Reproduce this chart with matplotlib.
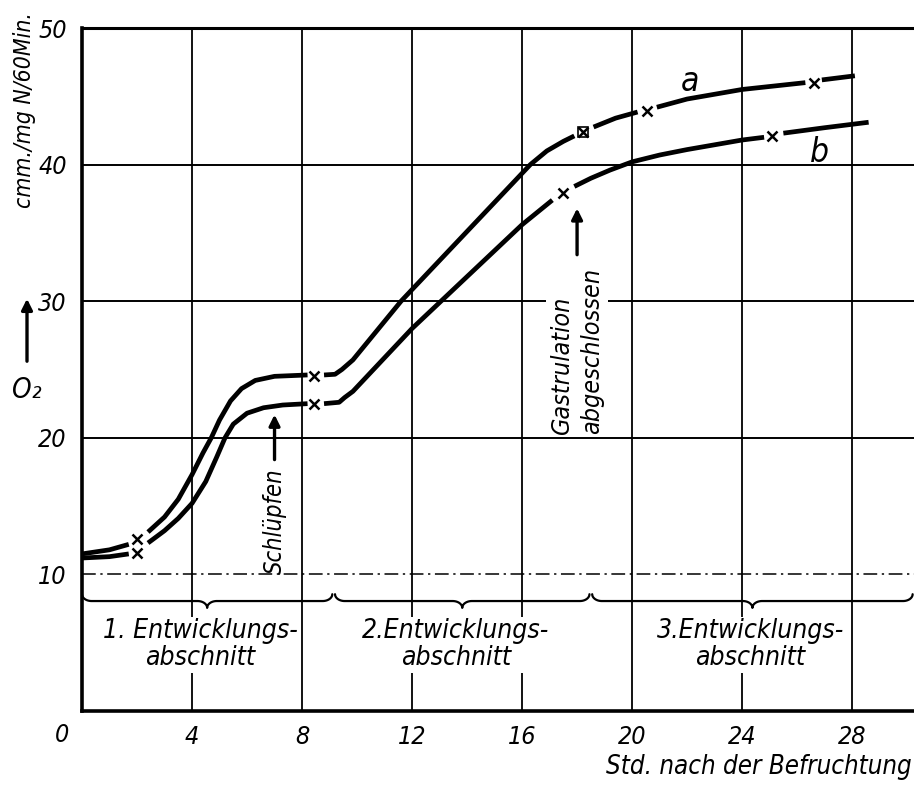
import numpy as np
import matplotlib
matplotlib.use("Agg")
import matplotlib.pyplot as plt
from matplotlib import font_manager
from matplotlib.font_manager import FontProperties

# Werte (Std. nach der Befruchtung / O2-Verbrauch)
nan = np.nan
a_x = [0, 1.0, 1.7, nan, 2.4, 3.0, 3.5, 4.0, 4.4, 4.7, 5.0, 5.4, 5.8, 6.3, 7.0, 8.2, nan,
       8.8, 9.2, 9.45, 9.85, 11.6, 16.3, 16.9, 17.5, 17.9, nan,
       18.6, 19.4, 20.2, nan, 20.9, 22.0, 24.0, 26.3, nan, 26.9, 28.1]
a_y = [11.5, 11.8, 12.2, nan, 13.1, 14.2, 15.5, 17.3, 18.9, 20.0, 21.3, 22.7, 23.6, 24.2, 24.5, 24.6, nan,
       24.6, 24.65, 25.0, 25.7, 30.0, 40.0, 41.0, 41.7, 42.1, nan,
       42.75, 43.4, 43.85, nan, 44.2, 44.8, 45.5, 46.0, nan, 46.2, 46.5]

b_x = [0, 1.0, 1.7, nan, 2.4, 3.0, 3.5, 4.0, 4.5, 4.9, 5.2, 5.5, 6.0, 6.6, 7.3, 8.2, nan,
       8.8, 9.35, 9.55, 9.85, 12.0, 16.0, 17.1, nan,
       17.9, 18.5, 19.2, 20.0, 21.0, 22.0, 24.0, 24.8, nan, 25.5, 27.0, 28.6]
b_y = [11.2, 11.3, 11.5, nan, 12.3, 13.2, 14.1, 15.2, 16.8, 18.6, 20.0, 21.0, 21.8, 22.2, 22.4, 22.5, nan,
       22.5, 22.6, 22.95, 23.4, 28.0, 35.6, 37.4, nan,
       38.4, 39.0, 39.6, 40.2, 40.7, 41.1, 41.8, 42.0, nan, 42.3, 42.7, 43.1]

# Messpunkte (Kreuze)
a_mx = [2.0, 8.45, 18.2, 20.55, 26.6]
a_my = [12.6, 24.5, 42.4, 43.9, 46.0]
b_mx = [2.0, 8.45, 17.5, 25.1]
b_my = [11.6, 22.5, 37.9, 42.1]

x_ticks = [4, 8, 12, 16, 20, 24, 28]
y_ticks = [10, 20, 30, 40, 50]
grid_levels = [20, 30, 40]

# Entwicklungsabschnitte (Grenzen in Std.)
phase_bounds = [(0.0, 9.1), (9.2, 18.45), (18.55, 30.2)]
phase_labels = ["1. Entwicklungs-\nabschnitt", "2.Entwicklungs-\nabschnitt", "3.Entwicklungs-\nabschnitt"]
phase_text_x = [4.3, 13.6, 24.3]


def schmale_schrift():
    # eine schmale (condensed/narrow) Schrift suchen, kursiv bevorzugt
    best, best_score = None, -1
    for f in font_manager.fontManager.ttflist:
        fn = f.fname.lower()
        schmal = ("condensed" in str(f.stretch) or "narrow" in f.name.lower()
                  or "condensed" in f.name.lower() or "narrow" in fn or "condensed" in fn)
        if not schmal or "extra" in fn or "ultra" in fn:
            continue
        score = 1
        if f.style in ("italic", "oblique"):
            score += 4
        if f.weight in ("normal", "regular", "book", 400, "medium", 500):
            score += 2
        if "semi" in fn:
            score -= 1
        if "liberation" in fn:
            score += 1
        if score > best_score:
            best, best_score = f.fname, score
    return best


SCHRIFT = schmale_schrift()


def fp(size):
    if SCHRIFT:
        return FontProperties(fname=SCHRIFT, size=size)
    return FontProperties(family="DejaVu Sans", style="italic", size=size * 0.85)


def brace(ax, x0, x1, y, h=0.5, r=0.35, tip=0.5):
    t = np.linspace(0, np.pi / 2, 20)
    xm = (x0 + x1) / 2
    xs = np.concatenate([x0 + r * (1 - np.cos(t)),
                         xm - r + r * np.sin(t),
                         (xm + r - r * np.sin(t))[::-1],
                         (x1 - r * (1 - np.cos(t)))[::-1]])
    ys = np.concatenate([y + h * (1 - np.sin(t)),
                         y - tip * (1 - np.cos(t)),
                         (y - tip * (1 - np.cos(t)))[::-1],
                         (y + h * (1 - np.sin(t)))[::-1]])
    ax.plot(xs, ys, color="black", lw=1.6, zorder=2, solid_capstyle="round")


fig = plt.figure(figsize=(9.14, 7.85), dpi=100)
ax = fig.add_axes([82 / 914, 74 / 785, 832 / 914, 683 / 785])
ax.set_xlim(0, 30.25)
ax.set_ylim(0, 50)

ax.spines["right"].set_visible(False)
ax.spines["left"].set_linewidth(2.6)
ax.spines["bottom"].set_linewidth(2.6)
ax.spines["top"].set_linewidth(2.2)

for x in x_ticks:
    ax.axvline(x, color="black", lw=1.3, zorder=0.5)
for y in grid_levels:
    ax.axhline(y, color="black", lw=1.4, zorder=0.5)
ax.axhline(10, color="black", lw=1.1, ls=(0, (9, 3, 1.5, 3)), zorder=0.5)

ax.plot(a_x, a_y, color="black", lw=3.4, zorder=3, solid_capstyle="butt")
ax.plot(b_x, b_y, color="black", lw=3.4, zorder=3, solid_capstyle="butt")
ax.plot(a_mx, a_my, ls="none", marker="x", ms=7, mew=1.8, color="black", zorder=3)
ax.plot(b_mx, b_my, ls="none", marker="x", ms=7, mew=1.8, color="black", zorder=3)
ax.plot(a_mx[2], a_my[2], ls="none", marker="s", ms=7, mfc="none", mew=1.2, color="black", zorder=3)

ax.text(22.1, 46.1, "a", fontproperties=fp(24), ha="center", va="center")
ax.text(26.8, 40.9, "b", fontproperties=fp(24), ha="center", va="center")

for (x0, x1), lab, tx in zip(phase_bounds, phase_labels, phase_text_x):
    brace(ax, x0, x1, 8.05)
    ax.text(tx, 4.85, lab, fontproperties=fp(19), ha="center", va="center", multialignment="center",
            linespacing=1.05, zorder=4,
            bbox=dict(boxstyle="square,pad=0.05", fc="white", ec="none"))

# Schlüpfen
ax.annotate("", xy=(7.0, 21.9), xytext=(7.0, 18.2),
            arrowprops=dict(arrowstyle="-|>", lw=2.4, color="black", mutation_scale=16))
ax.text(7.0, 10.05, "Schlüpfen", rotation=90, fontproperties=fp(17), ha="center", va="bottom", zorder=4)

# Gastrulation abgeschlossen
ax.annotate("", xy=(18.0, 37.0), xytext=(18.0, 33.2),
            arrowprops=dict(arrowstyle="-|>", lw=2.4, color="black", mutation_scale=16))
ax.text(18.0, 20.3, "Gastrulation\nabgeschlossen", rotation=90, fontproperties=fp(18),
        ha="center", va="bottom", multialignment="left", linespacing=1.3, zorder=4,
        bbox=dict(boxstyle="square,pad=0.15", fc="white", ec="none"))

ax.set_xticks(x_ticks)
ax.set_yticks(y_ticks)
ax.tick_params(length=0)
ax.tick_params(axis="x", pad=10)
ax.tick_params(axis="y", pad=11)
for lbl in ax.get_xticklabels() + ax.get_yticklabels():
    lbl.set_fontproperties(fp(18))
ax.text(-0.72, -1.75, "0", fontproperties=fp(18), ha="center", va="center", clip_on=False)

fig.text(912 / 914, 1 - 767 / 785, "Std. nach der Befruchtung", fontproperties=fp(18.5),
         ha="right", va="center")
fig.text(25 / 914, 1 - 110 / 785, "cmm./mg N/60Min.", fontproperties=fp(16.5), rotation=90,
         ha="center", va="center")
fig.text(27 / 914, 1 - 390 / 785, "O₂", fontproperties=fp(20), ha="center", va="center")
ax.annotate("", xy=(27 / 914, 1 - 296 / 785), xytext=(27 / 914, 1 - 364 / 785),
            xycoords="figure fraction", textcoords="figure fraction",
            arrowprops=dict(arrowstyle="-|>", lw=2.4, color="black", mutation_scale=16))

fig.savefig("out.png", dpi=100)
